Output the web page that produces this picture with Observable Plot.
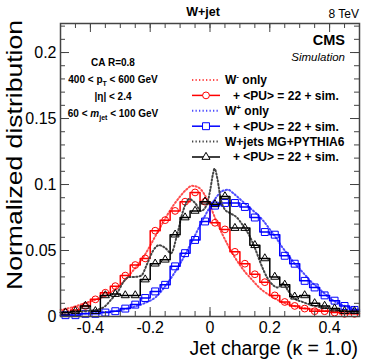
<!DOCTYPE html>
<html><head><meta charset="utf-8">
<script src="https://cdn.jsdelivr.net/npm/d3@7"></script>
<script src="https://cdn.jsdelivr.net/npm/@observablehq/plot@0.6"></script>
<style>body{margin:0;background:#fff;} svg{display:block}</style>
</head><body><div id="chart"></div>
<script>
// ---------- binning ----------
const binLo = -0.5, binHi = 0.5, nBins = 30;

// ---------- step histograms (+ <PU> = 22 + sim.), 30 bins ----------
const wMinusPU = [0.003,0.005,0.008,0.013,0.018,0.023,0.031,0.039,0.044,0.065,0.073,0.080,0.087,0.094,0.087,0.071,0.066,0.049,0.040,0.032,0.026,0.016,0.011,0.008,0.006,0.004,0.004,0.003,0.002,0.002];
const wPlusPU  = [0.001,0.001,0.002,0.002,0.003,0.004,0.006,0.009,0.014,0.019,0.024,0.038,0.048,0.058,0.072,0.084,0.086,0.086,0.083,0.075,0.064,0.062,0.046,0.040,0.027,0.022,0.016,0.012,0.008,0.005];
const wjetsPU  = [0.003,0.004,0.008,0.004,0.016,0.017,0.016,0.016,0.028,0.040,0.043,0.062,0.075,0.080,0.087,0.085,0.091,0.067,0.067,0.054,0.044,0.030,0.024,0.015,0.016,0.010,0.008,0.006,0.004,0.004];

// ---------- smooth (dotted) distributions ----------
const wMinusOnlyX = [-0.5,-0.46,-0.42,-0.38,-0.34,-0.30,-0.26,-0.22,-0.18,-0.14,-0.12,-0.10,-0.08,-0.06,-0.04,-0.02,0.00,0.02,0.04,0.06,0.08,0.10,0.12,0.14,0.16,0.18,0.20,0.24,0.28,0.32,0.36,0.40,0.45,0.50];
const wMinusOnlyY = [0.005,0.007,0.010,0.013,0.017,0.024,0.034,0.046,0.062,0.078,0.085,0.091,0.096,0.099,0.098,0.093,0.084,0.073,0.063,0.054,0.046,0.039,0.033,0.028,0.023,0.019,0.016,0.011,0.008,0.006,0.005,0.004,0.003,0.002];

const wPlusOnlyX = [-0.5,-0.44,-0.38,-0.32,-0.26,-0.22,-0.18,-0.14,-0.10,-0.06,-0.02,0.00,0.02,0.04,0.06,0.08,0.10,0.12,0.14,0.16,0.18,0.20,0.22,0.24,0.26,0.28,0.30,0.32,0.34,0.36,0.38,0.40,0.44,0.48,0.50];
const wPlusOnlyY = [0.001,0.002,0.003,0.004,0.007,0.010,0.015,0.026,0.040,0.057,0.075,0.083,0.090,0.095,0.096,0.093,0.089,0.085,0.081,0.077,0.072,0.066,0.060,0.053,0.047,0.041,0.036,0.031,0.026,0.022,0.018,0.014,0.009,0.006,0.005];

const wjetsMGX = [-0.50,-0.46,-0.42,-0.38,-0.35,-0.33,-0.31,-0.29,-0.27,-0.25,-0.23,-0.21,-0.19,-0.17,-0.15,-0.13,-0.11,-0.09,-0.07,-0.05,-0.03,-0.01,0.00,0.01,0.015,0.025,0.035,0.05,0.07,0.09,0.11,0.13,0.15,0.17,0.19,0.21,0.225,0.245,0.26,0.28,0.31,0.35,0.40,0.45,0.50];
const wjetsMGY = [0.003,0.003,0.004,0.005,0.008,0.013,0.018,0.026,0.030,0.030,0.031,0.040,0.050,0.054,0.052,0.048,0.062,0.080,0.089,0.086,0.080,0.085,0.095,0.108,0.112,0.104,0.090,0.081,0.078,0.075,0.069,0.062,0.052,0.040,0.030,0.024,0.022,0.025,0.020,0.014,0.011,0.008,0.006,0.004,0.003];

// ---------- ticks ----------
const xTickLabels = [-0.4,-0.2,0,0.2,0.4];
const xMinorTicks = d3.range(-10, 11).map(i => i * 0.05);
const yTickLabels = [0,0.05,0.1,0.15,0.2];
const yMinorTicks = d3.range(0, 23).map(i => i * 0.01);

// ---------- colours ----------
const cRed = "#ff0000", cRedDot = "#ff4d4d";
const cBlue = "#0000ff", cBlueDot = "#4d4dff";
const cBlack = "#000000", cGrayDot = "#444444";
const FONT = "'Liberation Sans', Arial, Helvetica, sans-serif";

const edges = d3.range(nBins + 1).map(i => binLo + i * (binHi - binLo) / nBins);
const stepData = vals => vals.map((v, i) => ({x: edges[i], y: v})).concat([{x: edges[nBins], y: vals[nBins - 1]}]);
const centerData = vals => vals.map((v, i) => ({x: (edges[i] + edges[i + 1]) / 2, y: v}));
const curveData = (xs, ys) => xs.map((x, i) => ({x, y: ys[i]}));

const W = 374, H = 363, mL = 60, mR = 15, mT = 23, mB = 47;
const innerH = H - mT - mB, innerW = W - mL - mR;
const axisCol = "#444";
const dots = "1.3,2.2";

const plot = Plot.plot({
  width: W, height: H,
  marginLeft: mL, marginRight: mR, marginTop: mT, marginBottom: mB,
  style: {fontFamily: FONT, background: "#fff", color: "#000"},
  x: {domain: [-0.5, 0.5]},
  y: {domain: [0, 0.222]},
  marks: [
    Plot.line(curveData(wMinusOnlyX, wMinusOnlyY), {x: "x", y: "y", curve: "monotone-x", stroke: cRedDot, strokeWidth: 2, strokeDasharray: dots}),
    Plot.line(stepData(wMinusPU), {x: "x", y: "y", curve: "step-after", stroke: cRed, strokeWidth: 1.5}),
    Plot.dot(centerData(wMinusPU), {x: "x", y: "y", r: 3.4, stroke: cRed, fill: "none", strokeWidth: 1}),
    Plot.line(curveData(wPlusOnlyX, wPlusOnlyY), {x: "x", y: "y", curve: "monotone-x", stroke: cBlueDot, strokeWidth: 2, strokeDasharray: dots}),
    Plot.line(stepData(wPlusPU), {x: "x", y: "y", curve: "step-after", stroke: cBlue, strokeWidth: 1.5}),
    Plot.dot(centerData(wPlusPU), {x: "x", y: "y", symbol: "square", r: 3.9, stroke: cBlue, fill: "none", strokeWidth: 1}),
    Plot.line(curveData(wjetsMGX, wjetsMGY), {x: "x", y: "y", curve: "monotone-x", stroke: cGrayDot, strokeWidth: 2, strokeDasharray: dots}),
    Plot.line(stepData(wjetsPU), {x: "x", y: "y", curve: "step-after", stroke: cBlack, strokeWidth: 1.5}),
    Plot.dot(centerData(wjetsPU), {x: "x", y: "y", symbol: "triangle", r: 3, stroke: cBlack, fill: "none", strokeWidth: 1}),
    // inward ticks, ROOT style, on all four sides
    Plot.tickX(xMinorTicks, {x: d => d, insetTop: innerH - 5, stroke: axisCol}),
    Plot.tickX(xMinorTicks, {x: d => d, insetBottom: innerH - 5, stroke: axisCol}),
    Plot.tickX(xTickLabels, {x: d => d, insetTop: innerH - 9, stroke: axisCol}),
    Plot.tickX(xTickLabels, {x: d => d, insetBottom: innerH - 9, stroke: axisCol}),
    Plot.tickY(yMinorTicks, {y: d => d, insetRight: innerW - 5, stroke: axisCol}),
    Plot.tickY(yMinorTicks, {y: d => d, insetLeft: innerW - 5, stroke: axisCol}),
    Plot.tickY(yTickLabels, {y: d => d, insetRight: innerW - 9, stroke: axisCol}),
    Plot.tickY(yTickLabels, {y: d => d, insetLeft: innerW - 9, stroke: axisCol}),
    Plot.frame({stroke: axisCol, strokeWidth: 1.5}),
    Plot.axisX({ticks: xTickLabels, tickSize: 0, tickPadding: 5, fontSize: 16, tickFormat: d => String(d), label: null}),
    Plot.axisY({ticks: yTickLabels, tickSize: 0, tickPadding: 4, fontSize: 16, tickFormat: d => String(d), label: null})
  ]
});
document.getElementById("chart").appendChild(plot);

// ---------- titles, annotations and legend ----------
const svg = d3.select(plot);
const txt = (x, y, s, o = {}) => svg.append("text").attr("x", x).attr("y", y)
  .attr("font-family", FONT).attr("font-size", o.size || 12).attr("font-weight", o.weight || "normal")
  .attr("font-style", o.style || "normal").attr("text-anchor", o.anchor || "start").attr("fill", "#000").text(s);

txt(203, 16, "W+jet", {size: 12.5, weight: "bold", anchor: "middle"});
txt(359, 18, "8 TeV", {size: 12, anchor: "end"});
txt(345, 45, "CMS", {size: 14.5, weight: "bold", anchor: "end"});
txt(345, 61, "Simulation", {size: 11.5, style: "italic", anchor: "end"});

// axis titles
txt(358, 355, "Jet charge (\u03BA = 1.0)", {size: 19.5, anchor: "end"});
svg.append("text").attr("transform", "translate(22,20) rotate(-90)")
  .attr("font-family", FONT).attr("font-size", 22).attr("text-anchor", "end")
  .attr("textLength", 270).attr("lengthAdjust", "spacingAndGlyphs")
  .text("Normalized distribution");

// selection annotation
const ann = svg.append("g").attr("font-family", FONT).attr("font-size", 10).attr("font-weight", "bold").attr("text-anchor", "middle");
ann.append("text").attr("x", 113).attr("y", 66).text("CA R=0.8");
const t2 = ann.append("text").attr("x", 113).attr("y", 83);
t2.append("tspan").text("400 < p");
t2.append("tspan").attr("font-size", 7).attr("dy", 2.5).text("T");
t2.append("tspan").attr("dy", -2.5).text(" < 600 GeV");
ann.append("text").attr("x", 113).attr("y", 100).text("|\u03B7| < 2.4");
const t4 = ann.append("text").attr("x", 113).attr("y", 117);
t4.append("tspan").text("60 < ");
t4.append("tspan").attr("font-style", "italic").text("m");
t4.append("tspan").attr("font-size", 7).attr("dy", 2.5).text("jet");
t4.append("tspan").attr("dy", -2.5).text(" < 100 GeV");

// legend
const legendRows = [
  {main: "W", sup: "-", rest: " only", color: cRedDot, dotted: true},
  {main: "+ <PU> = 22 + sim.", color: cRed, sym: d3.symbolCircle, size: Math.PI * 3.4 * 3.4},
  {main: "W", sup: "+", rest: " only", color: cBlueDot, dotted: true},
  {main: "+ <PU> = 22 + sim.", color: cBlue, sym: d3.symbolSquare, size: Math.PI * 3.9 * 3.9},
  {main: "W+jets MG+PYTHIA6", color: cGrayDot, dotted: true},
  {main: "+ <PU> = 22 + sim.", color: cBlack, sym: d3.symbolTriangle, size: Math.PI * 3 * 3}
];
const lg = svg.append("g").attr("font-family", FONT).attr("font-size", 12).attr("font-weight", "bold").attr("text-anchor", "start");
legendRows.forEach((r, i) => {
  const y = 80 + i * 15.4;
  lg.append("line").attr("x1", 192).attr("x2", 220).attr("y1", y).attr("y2", y)
    .attr("stroke", r.color).attr("stroke-width", r.dotted ? 2 : 1.5)
    .attr("stroke-dasharray", r.dotted ? dots : null);
  if (r.sym) {
    lg.append("path").attr("d", d3.symbol(r.sym, r.size)()).attr("transform", `translate(206,${y})`)
      .attr("fill", "#fff").attr("stroke", r.color).attr("stroke-width", 1);
  }
  const t = lg.append("text").attr("x", r.dotted ? 225 : 233).attr("y", y + 4.3).attr("text-anchor", "start");
  t.append("tspan").text(r.main);
  if (r.sup) {
    t.append("tspan").attr("font-size", 8).attr("dy", -5).text(r.sup);
    t.append("tspan").attr("dy", 5).text(r.rest);
  }
});
</script>
</body></html>
